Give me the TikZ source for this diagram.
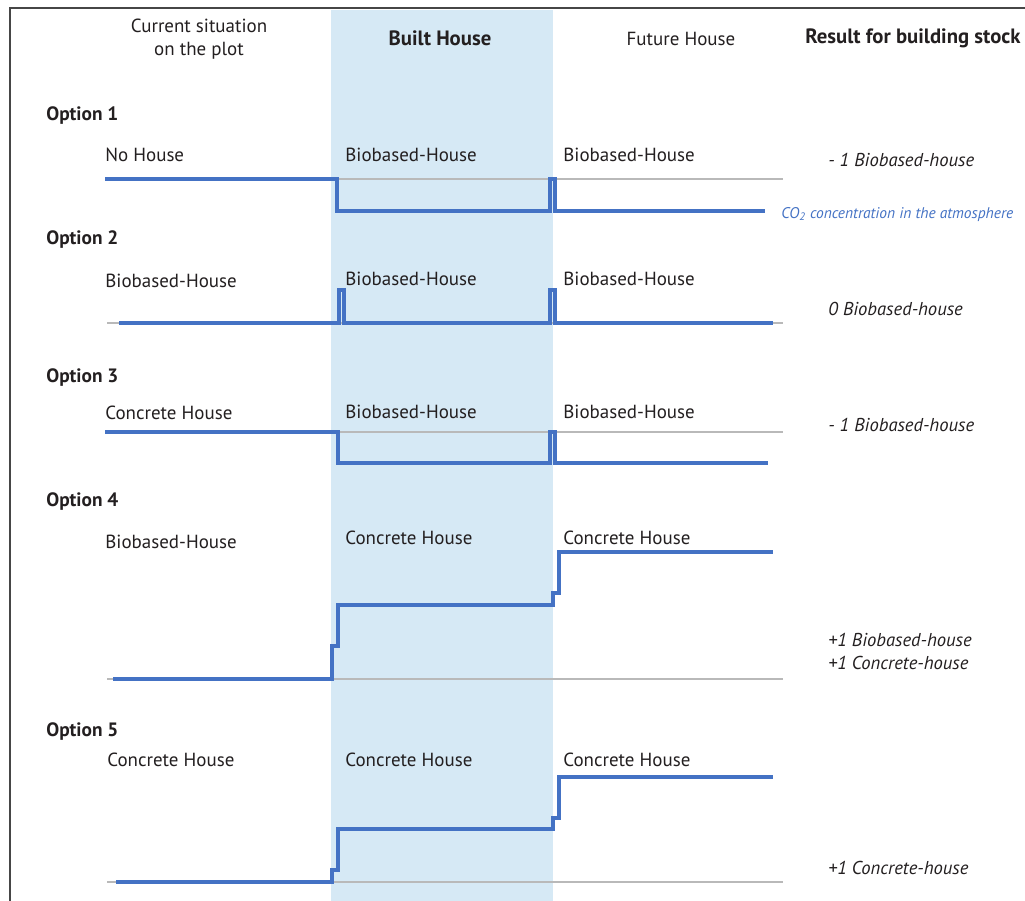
\documentclass[tikz,border=0pt]{standalone}
\usepackage{fontspec}
\setmainfont{PT Sans}
\definecolor{figB}{RGB}{68,114,196}
\definecolor{figS}{RGB}{214,233,245}
\definecolor{figL}{RGB}{185,185,185}
\definecolor{figF}{RGB}{70,70,70}
\definecolor{figT}{RGB}{35,31,32}

\begin{document}
\begin{tikzpicture}[x=0.02cm,y=-0.02cm,
  txt/.style={inner sep=0pt,yshift=-1pt,text=figT,font=\fontsize{10.8}{13}\selectfont},
  lbl/.style={txt,anchor=west},
  opt/.style={lbl,font=\fontsize{11}{13}\selectfont\bfseries},
  res/.style={lbl,font=\fontsize{10.6}{13}\selectfont\itshape},
  curve/.style={figB,line width=2.2pt},
  base/.style={figL,line width=0.8pt}]
\useasboundingbox (0,0) rectangle (1025,901);
\fill[figS] (331,10) rectangle (553,901);
\draw[figF,line width=1.2pt] (10,901) -- (10,8) -- (1025,8);

% column heads
\node[txt,align=center] (hcur) at (199,37) {Current situation\\on the plot};
\node[txt,font=\fontsize{11.8}{13}\selectfont\bfseries] (hbuilt) at (440,37) {Built House};
\node[txt] (hfut) at (681,37) {Future House};
\node[txt,font=\fontsize{11.8}{13}\selectfont\bfseries] (hres) at (913,37) {Result for building stock};

% option 1
\node[opt] (op1) at (46,114) {Option 1};
\node[lbl] (op1a) at (105,153) {No House};
\node[lbl] (op1b) at (345,153) {Biobased-House};
\node[lbl] (op1c) at (563,153) {Biobased-House};
\node[res] (op1r) at (828,158) {- 1 Biobased-house};
\draw[base] (105,179) -- (783,179);
\draw[curve] (105,179) -- (337,179) -- (337,211) -- (550,211) -- (550,179) -- (555,179) -- (555,211) -- (765,211) coordinate (co2);
\node[lbl,anchor=west,text=figB,font=\fontsize{8.8}{10}\selectfont\itshape] (co2t) at (781,213) {CO\textsubscript{2} concentration in the atmosphere};

% option 2
\node[opt] (op2) at (46,238) {Option 2};
\node[lbl] (op2a) at (105,279) {Biobased-House};
\node[lbl] (op2b) at (345,277) {Biobased-House};
\node[lbl] (op2c) at (563,277) {Biobased-House};
\node[res] (op2r) at (828,307) {0 Biobased-house};
\draw[base] (107,323) -- (783,323);
\draw[curve] (119,323) -- (339,323) -- (339,290) -- (344,290) -- (344,323) -- (550,323) -- (550,290) -- (555,290) -- (555,323) -- (773,323);

% option 3
\node[opt] (op3) at (46,376) {Option 3};
\node[lbl] (op3a) at (105,411) {Concrete House};
\node[lbl] (op3b) at (345,410) {Biobased-House};
\node[lbl] (op3c) at (563,410) {Biobased-House};
\node[res] (op3r) at (828,423) {- 1 Biobased-house};
\draw[base] (105,432) -- (783,432);
\draw[curve] (105,432) -- (338,432) -- (338,463) -- (550,463) -- (550,432) -- (555,432) -- (555,463) -- (768,463);

% option 4
\node[opt] (op4) at (46,500) {Option 4};
\node[lbl] (op4a) at (105,540) {Biobased-House};
\node[lbl] (op4b) at (345,536) {Concrete House};
\node[lbl] (op4c) at (563,536) {Concrete House};
\node[res,align=left] (op4r) at (828,650) {+1 Biobased-house\\+1 Concrete-house};
\draw[base] (107,679) -- (783,679);
\draw[curve] (113,679) -- (332,679) -- (332,646) -- (338,646) -- (338,605) -- (553,605) -- (553,593) -- (559,593) -- (559,552) -- (773,552);

% option 5
\node[opt] (op5) at (46,730) {Option 5};
\node[lbl] (op5a) at (107,758) {Concrete House};
\node[lbl] (op5b) at (345,758) {Concrete House};
\node[lbl] (op5c) at (563,758) {Concrete House};
\node[res] (op5r) at (828,866) {+1 Concrete-house};
\draw[base] (107,882) -- (783,882);
\draw[curve] (116,882) -- (332,882) -- (332,870) -- (338,870) -- (338,829) -- (553,829) -- (553,818) -- (559,818) -- (559,777) -- (773,777);
\end{tikzpicture}
\end{document}
